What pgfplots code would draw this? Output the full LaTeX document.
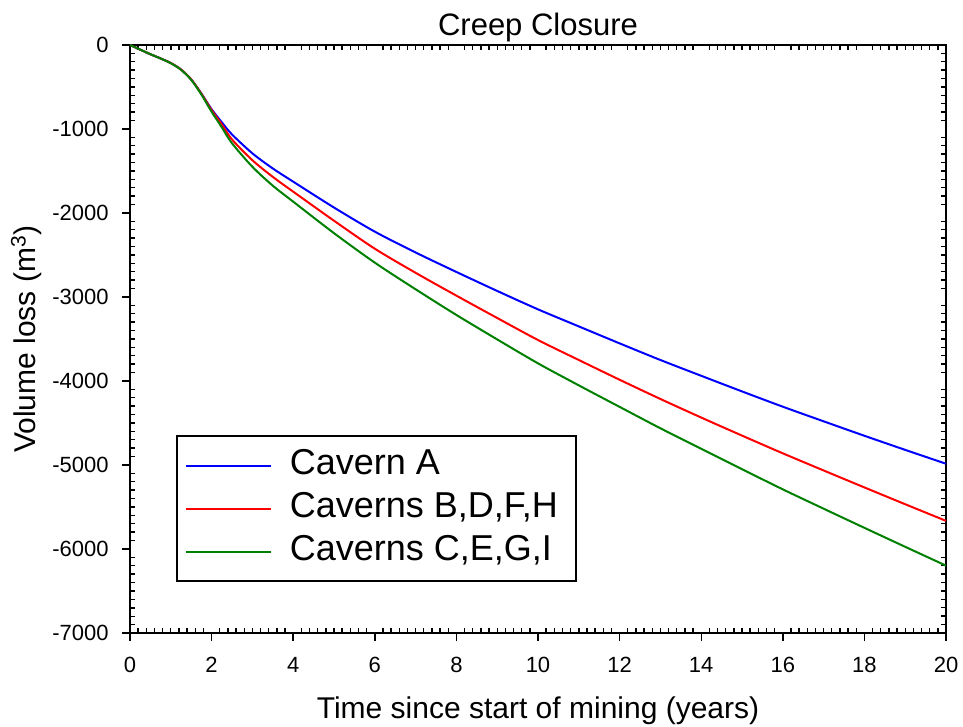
\documentclass[border=0pt]{standalone}
\usepackage{pgfplots}
\pgfplotsset{compat=1.18}
\usepackage{pgfplotstable}
\usepackage{fontspec}
\setmainfont{Liberation Sans}

\pgfplotstableread{
t blue red green
0 0 0 0
0.25 -55 -55 -55
0.5 -110 -110 -110
0.75 -160 -160 -161
1 -215 -215 -217
1.25 -292 -292 -295
1.5 -410 -410 -415
1.75 -578 -580 -590
2 -765 -775 -795
2.25 -920 -945 -980
2.5 -1065 -1125 -1170
3 -1290 -1372 -1450
3.5 -1470 -1570 -1675
4 -1627 -1746 -1865
5 -1935 -2092 -2240
6 -2222 -2425 -2591
7 -2470 -2712 -2908
8 -2702 -2984 -3214
9 -2928 -3250 -3505
10 -3147 -3512 -3790
11 -3350 -3750 -4052
12 -3552 -3985 -4308
13 -3750 -4214 -4563
14 -3938 -4435 -4807
15 -4124 -4650 -5050
16 -4306 -4861 -5290
17 -4480 -5065 -5520
18 -4652 -5267 -5748
19 -4820 -5467 -5974
20 -4985 -5665 -6198
}\datatable

\definecolor{cgreen}{RGB}{0,128,0}

\begin{document}
\begin{tikzpicture}
\pgfplotsset{
  common/.style={
    scale only axis,
    width=408pt, height=294pt,
    xmin=0, xmax=20, ymin=-7000, ymax=0,
    xtick={0,2,...,20},
    ytick={-7000,-6000,...,0},
    axis line style={line width=1pt},
    every tick/.style={black, line width=0.7pt},
  }
}
% minor ticks on top and right
\begin{axis}[common,
  tick align=inside,
  xtick pos=right, ytick pos=right,
  major tick length=0pt, minor tick length=2.5pt,
  minor x tick num=9, minor y tick num=9,
  xticklabels={}, yticklabels={},
]
\end{axis}
% main axis
\begin{axis}[common,
  tick align=outside,
  xtick pos=left, ytick pos=left,
  major tick length=4pt, minor tick length=-2.5pt,
  minor x tick num=9, minor y tick num=9,
  /pgf/number format/assume math mode=true,
  /pgf/number format/1000 sep={},
  tick label style={font=\fontsize{11}{13}\selectfont},
  xticklabel style={yshift=-4.6pt},
  yticklabel style={xshift=-3.2pt},
  title={Creep Closure},
  title style={at={(axis description cs:0.5,1)}, anchor=base, yshift=-1.5pt, font=\fontsize{15.5}{18}\selectfont},
  xlabel={Time since start of mining (years)},
  xlabel style={at={(axis description cs:0.5,0)}, anchor=base, yshift=-42.5pt, font=\fontsize{15}{18}\selectfont},
  ylabel={Volume loss (m\textsuperscript{3})},
  ylabel style={at={(axis description cs:-0.1152,0.5)}, anchor=base, font=\fontsize{15}{18}\selectfont},
  legend style={at={(axis cs:1.127,-6393)}, anchor=south west,
    draw=black, line width=0.9pt, inner xsep=4pt, inner ysep=4pt,
    font=\fontsize{18}{21}\selectfont,
    nodes={inner xsep=5pt, inner ysep=2.75pt, text height=12.5pt, text depth=3.5pt},
    /tikz/every odd column/.append style={column sep=4pt}},
  legend cell align=left,
  legend image code/.code={\draw[#1, line width=1pt] (0pt,0pt) -- (42.5pt,0pt);},
]
\addplot[blue, line width=1pt, smooth] table[x=t, y=blue] {\datatable};
\addlegendentry{Cavern A}
\addplot[red, line width=1pt, smooth] table[x=t, y=red] {\datatable};
\addlegendentry{Caverns B,D,F,H}
\addplot[cgreen, line width=1pt, smooth] table[x=t, y=green] {\datatable};
\addlegendentry{Caverns C,E,G,I}
\end{axis}
\pgfresetboundingbox
\path[use as bounding box] (current axis.south west) ++(-65pt,-47pt) rectangle ++(481.5pt,363.5pt);
\end{tikzpicture}
\end{document}
